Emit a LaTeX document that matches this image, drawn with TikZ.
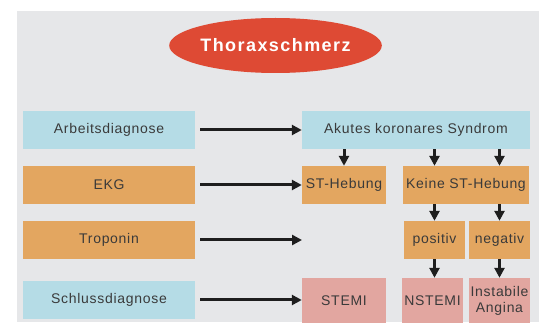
\documentclass[tikz,border=0pt]{standalone}
\usepackage{fontspec}
\setmainfont{Liberation Sans}[LetterSpace=5]
\newfontfamily\titlefont{Liberation Sans}[LetterSpace=8]
\usetikzlibrary{arrows.meta,shapes.geometric}
\definecolor{bggray}{HTML}{E6E7E9}
\definecolor{lblue}{HTML}{B5DCE6}
\definecolor{lorange}{HTML}{E3A660}
\definecolor{lpink}{HTML}{E2A6A0}
\definecolor{tred}{HTML}{DE4A34}
\definecolor{txt}{HTML}{3A3A3A}
\definecolor{arrc}{HTML}{1E1E1E}
\tikzset{
  box/.style={draw=none, inner sep=0pt, minimum height=38pt, align=center,
    text=txt, font=\fontsize{14}{16}\selectfont},
  bluebox/.style={box, fill=lblue},
  orangebox/.style={box, fill=lorange},
  pinkbox/.style={box, fill=lpink, minimum height=45pt},
  arr/.style={draw=arrc, line width=3pt, -{Triangle[length=10pt,width=10pt]}}
}
\begin{document}
\begin{tikzpicture}[x=1pt,y=-1pt]
\useasboundingbox (0,0) rectangle (544,323);
\fill[bggray] (17,11) rectangle (539,322);
\node[ellipse, fill=tred, minimum width=173pt, minimum height=55pt, inner sep=0pt,
  text=white, font=\titlefont\bfseries\fontsize{18}{20}\selectfont] (title) at (275.5,45.5) {Thoraxschmerz};
% left column
\node[bluebox, minimum width=172pt] (arbeit) at (109,130) {Arbeitsdiagnose};
\node[orangebox, minimum width=172pt] (ekg) at (109,185) {EKG};
\node[orangebox, minimum width=172pt] (trop) at (109,240) {Troponin};
\node[bluebox, minimum width=172pt] (schluss) at (109,300) {Schlussdiagnose};
% right side
\node[bluebox, minimum width=228pt] (aks) at (416,130) {Akutes koronares Syndrom};
\node[orangebox, minimum width=84pt] (st) at (344,185) {ST-Hebung};
\node[orangebox, minimum width=126pt] (keine) at (466,185) {Keine ST-Hebung};
\node[orangebox, minimum width=61pt] (pos) at (434.5,240) {positiv};
\node[orangebox, minimum width=61pt] (neg) at (499.5,240) {negativ};
\node[pinkbox, minimum width=84pt] (stemi) at (344,300.5) {STEMI};
\node[pinkbox, minimum width=61pt] (nstemi) at (432.5,300.5) {NSTEMI};
\node[pinkbox, minimum width=61pt] (ia) at (499.5,300.5) {Instabile\\Angina};
\coordinate (tropend) at (302,240);
% horizontal arrows
\draw[arr] ([xshift=5pt]arbeit.east) -- (aks.west);
\draw[arr] ([xshift=5pt]ekg.east) -- (st.west);
\draw[arr] ([xshift=5pt]trop.east) -- (tropend);
\draw[arr] ([xshift=5pt]schluss.east) -- (stemi.west |- schluss.east);
% vertical arrows
\draw[arr] (aks.south -| st.north) -- (st.north);
\draw[arr] (aks.south -| pos.north) -- (keine.north -| pos.north);
\draw[arr] (aks.south -| neg.north) -- (keine.north -| neg.north);
\draw[arr] (keine.south -| pos.north) -- (pos.north);
\draw[arr] (keine.south -| neg.north) -- (neg.north);
\draw[arr] (pos.south) -- (nstemi.north -| pos.south);
\draw[arr] (neg.south) -- (ia.north);
\end{tikzpicture}
\end{document}
